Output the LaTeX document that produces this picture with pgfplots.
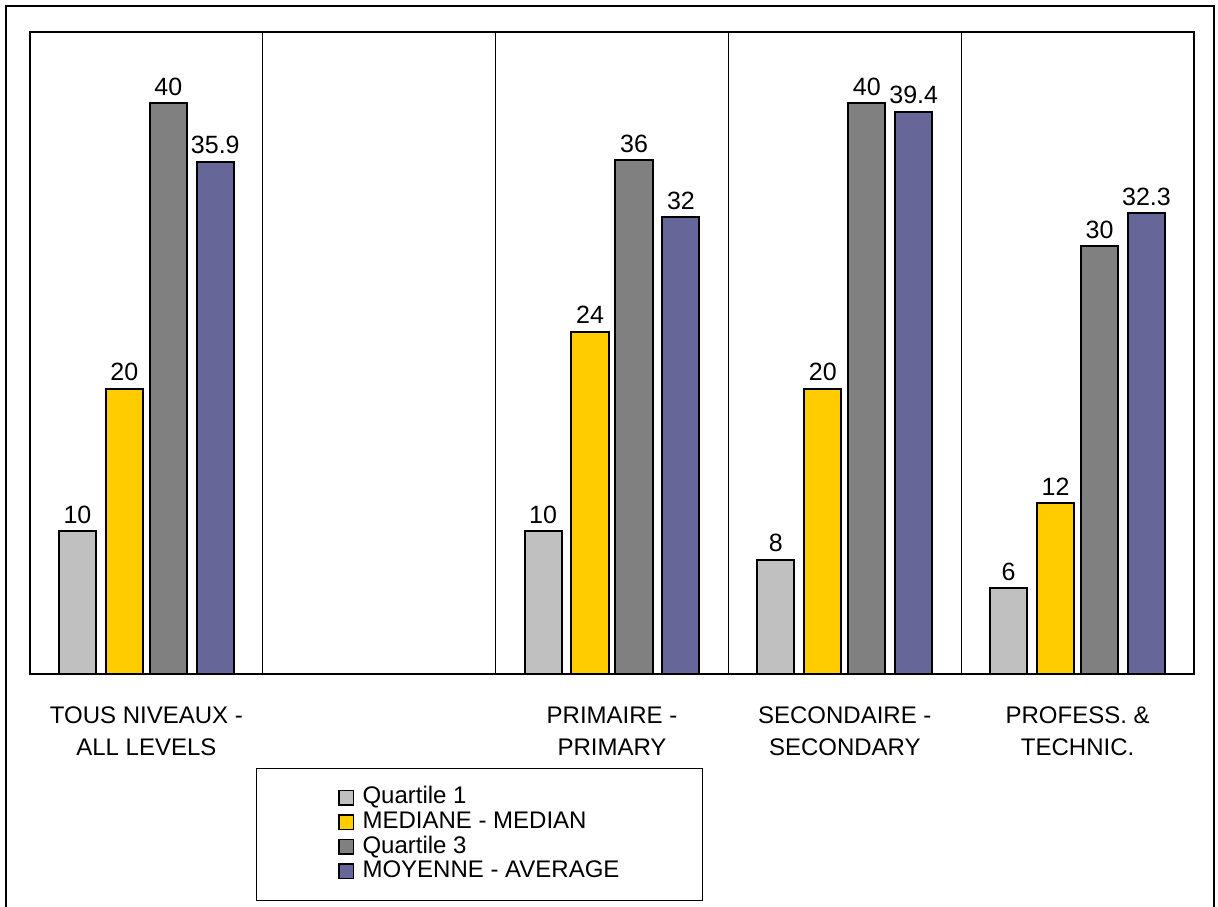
\documentclass[border=0pt]{standalone}
\usepackage{fontspec}
\setmainfont{Liberation Sans}
\usepackage{pgfplots}
\pgfplotsset{compat=1.18}
\definecolor{qone}{HTML}{C0C0C0}
\definecolor{qmed}{HTML}{FFCC00}
\definecolor{qthree}{HTML}{808080}
\definecolor{qavg}{HTML}{666699}
\begin{document}
\begin{tikzpicture}
\useasboundingbox (0pt,0pt) rectangle (609pt,453pt);
\draw[line width=0.7pt] (3pt,-2pt) -- (3pt,450pt) -- (607pt,450pt) -- (607pt,-2pt);
\begin{axis}[
  at={(15pt,116pt)}, anchor=south west,
  width=582pt, height=321pt, scale only axis,
  xmin=-0.5, xmax=4.5, ymin=0, ymax=45,
  ytick=\empty,
  xtick={0,1,2,3,4},
  xticklabels={{TOUS NIVEAUX -\\ALL LEVELS},{},{PRIMAIRE -\\PRIMARY},{SECONDAIRE -\\SECONDARY},{PROFESS. \&\\TECHNIC.}},
  xticklabel style={align=center, font=\fontsize{12}{16}\selectfont, yshift=-13pt},
  major tick length=0pt,
  extra x ticks={0.5,1.5,2.5,3.5},
  extra x tick labels={},
  extra x tick style={grid=major, major grid style={black, line width=0.4pt}},
  axis line style={line width=0.6pt},
  ybar, bar width=0.159,
  nodes near coords,
  /pgf/number format/assume math mode=true,
  every node near coord/.append style={font=\fontsize{12.5}{14}\selectfont, color=black},
  legend image code/.code={\draw[#1,line width=0.8pt] (0pt,-3.6pt) rectangle (7.2pt,3.6pt);},
  legend cell align=left,
  legend style={at={(0.194,-0.146)}, anchor=north west, draw=black, line width=0.5pt,
    inner xsep=41pt, inner ysep=8.5pt,
    font=\fontsize{12}{12}\selectfont, row sep=0pt, column sep=3.5pt,
    nodes={inner sep=0.6pt, text height=8.7pt, text depth=2.4pt}},
]
\addplot+[bar shift=-0.296, fill=qone, draw=black, line width=1pt] coordinates {(0,10) (2,10) (3,8) (4,6)};
\addlegendentry{Quartile 1}
\addplot+[bar shift=-0.0945, fill=qmed, draw=black, line width=1pt] coordinates {(0,20) (2,24) (3,20) (4,12)};
\addlegendentry{MEDIANE - MEDIAN}
\addplot+[bar shift=0.0945, fill=qthree, draw=black, line width=1pt] coordinates {(0,40) (2,36) (3,40) (4,30)};
\addlegendentry{Quartile 3}
\addplot+[bar shift=0.296, fill=qavg, draw=black, line width=1pt] coordinates {(0,35.9) (2,32) (3,39.4) (4,32.3)};
\addlegendentry{MOYENNE - AVERAGE}
\end{axis}
\end{tikzpicture}
\end{document}
